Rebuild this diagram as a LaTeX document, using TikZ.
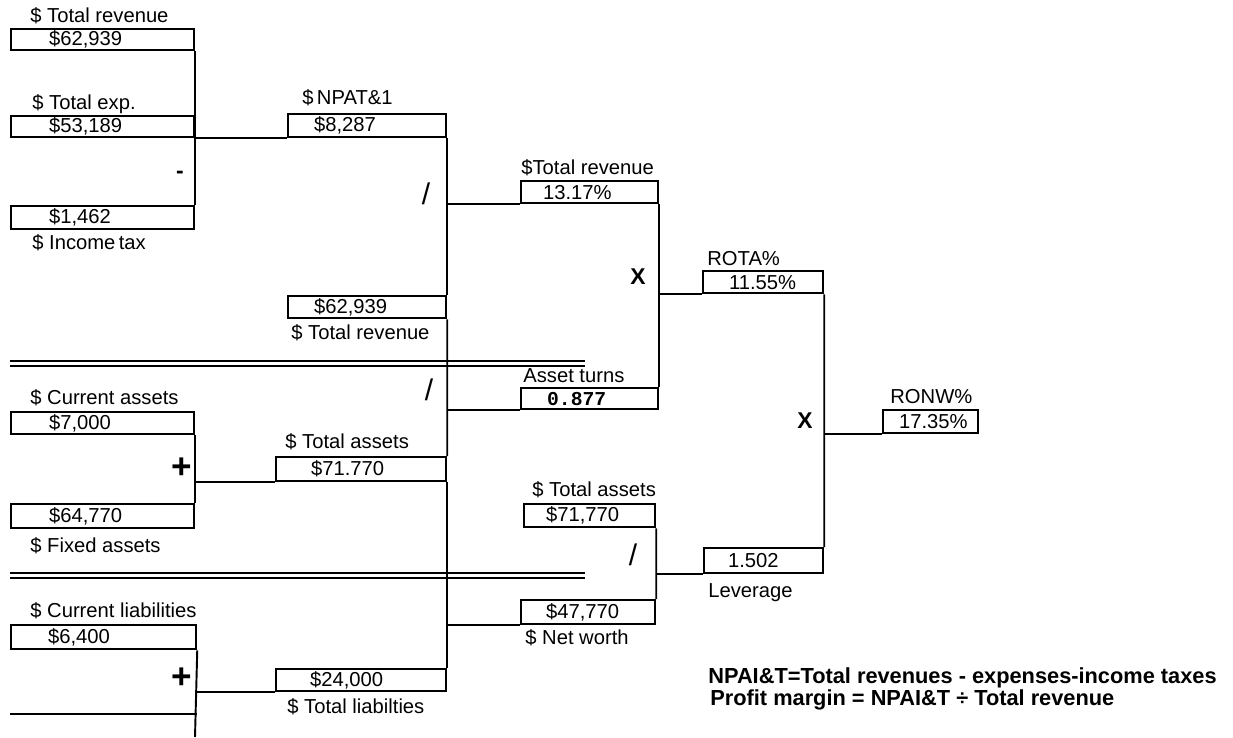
\documentclass[tikz,border=0pt]{standalone}
\usepackage{fontspec}
\setmainfont{Liberation Sans}
\newfontfamily\monof{Liberation Mono}
\newcommand\fsz{\fontsize{11.5}{13}\selectfont}
\begin{document}
\begin{tikzpicture}[x=0.02cm,y=-0.02cm,
  bx/.style={draw, line width=1.3pt, inner sep=0pt, anchor=north west, align=left, font=\fsz},
  lbl/.style={anchor=base west, inner sep=0pt, font=\fsz},
  note/.style={anchor=base west, inner sep=0pt, font=\fontsize{12.4}{14}\selectfont\bfseries},
  opr/.style={inner sep=0pt, font=\fontsize{17}{19}\selectfont},
  opb/.style={inner sep=0pt, font=\fontsize{20}{22}\selectfont\bfseries},
  opx/.style={inner sep=0pt, font=\fontsize{13}{15}\selectfont\bfseries},
  ln/.style={line width=1.1pt},
  dbl/.style={line width=0.9pt}]
\useasboundingbox (0,0) rectangle (1233,737);

% boxes
\node[bx, text width=3.66cm, minimum height=0.42cm] (tr1) at (10,28) {\hspace*{0.76cm}\$62,939};
\node[bx, text width=3.66cm, minimum height=0.42cm] (te) at (10,115) {\hspace*{0.76cm}\$53,189};
\node[bx, text width=3.66cm, minimum height=0.46cm] (it) at (10,205) {\hspace*{0.76cm}\$1,462};
\node[bx, text width=3.16cm, minimum height=0.46cm] (npat) at (287,113) {\hspace*{0.52cm}\$8,287};
\node[bx, text width=3.16cm, minimum height=0.44cm] (tr2) at (287,295) {\hspace*{0.52cm}\$62,939};
\node[bx, text width=2.74cm, minimum height=0.44cm] (pm) at (520,180) {\hspace*{0.44cm}13.17\%};
\node[bx, text width=2.40cm, minimum height=0.44cm] (rota) at (702,270) {\hspace*{0.52cm}11.55\%};
\node[bx, text width=2.74cm, minimum height=0.42cm] (at) at (520,387) {\hspace*{0.52cm}{\monof\bfseries\fontsize{11.2}{13}\selectfont 0.877}};
\node[bx, text width=1.90cm, minimum height=0.46cm] (ronw) at (882,409) {\hspace*{0.32cm}17.35\%};
\node[bx, text width=3.66cm, minimum height=0.44cm] (ca) at (10,411) {\hspace*{0.76cm}\$7,000};
\node[bx, text width=3.40cm, minimum height=0.48cm] (ta) at (275,456) {\hspace*{0.70cm}\$71.770};
\node[bx, text width=3.66cm, minimum height=0.48cm] (fa) at (10,503) {\hspace*{0.76cm}\$64,770};
\node[bx, text width=2.62cm, minimum height=0.46cm] (ta2) at (523,503) {\hspace*{0.44cm}\$71,770};
\node[bx, text width=2.38cm, minimum height=0.50cm] (lev) at (703,547) {\hspace*{0.48cm}1.502};
\node[bx, text width=2.68cm, minimum height=0.48cm] (nw) at (520,599) {\hspace*{0.50cm}\$47,770};
\node[bx, text width=3.70cm, minimum height=0.48cm] (cl) at (10,624) {\hspace*{0.74cm}\$6,400};
\node[bx, text width=3.40cm, minimum height=0.44cm] (tl) at (275,668) {\hspace*{0.68cm}\$24,000};

% labels
\node[lbl] (l1) at (30,22) {\$ Total revenue};
\node[lbl] (l2) at (32,109) {\$ Total exp.};
\node[lbl] (l3) at (32,249) {\$ Income\,tax};
\node[lbl] (l4) at (302,104) {\$\,NPAT\&1};
\node[lbl] (l5) at (521,174) {\$Total revenue};
\node[lbl] (l6) at (291,339) {\$ Total revenue};
\node[lbl] (l7) at (707,265) {ROTA\%};
\node[lbl] (l8) at (523,382) {Asset turns};
\node[lbl] (l9) at (890,403) {RONW\%};
\node[lbl] (l10) at (30,404) {\$ Current assets};
\node[lbl] (l11) at (285,448) {\$ Total assets};
\node[lbl] (l12) at (30,552) {\$ Fixed assets};
\node[lbl] (l13) at (532,496) {\$ Total assets};
\node[lbl] (l14) at (708,597) {Leverage};
\node[lbl] (l15) at (30,617) {\$ Current liabilities};
\node[lbl] (l16) at (525,644) {\$ Net worth};
\node[lbl] (l17) at (287,713) {\$ Total liabilties};

% operators
\node[opx] (o1) at (180,175) {-};
\node[opr] (o2) at (426,194) {/};
\node[opx] (o3) at (638,277) {X};
\node[opr] (o4) at (429,390) {/};
\node[opb] (o5) at (182,468) {+};
\node[opb] (o6) at (182,678) {+};
\node[opr] (o7) at (633,555) {/};
\node[opx] (o8) at (805,421) {X};

% notes
\node[note] (n1) at (708,683) {NPAI\&T=Total revenues - expenses-income taxes};
\node[note] (n2) at (710,705) {Profit margin = NPAI\&T ÷ Total revenue};

% connectors
\draw[ln] (tr1.south east) -- (it.north east);
\draw[ln] (te.south east) -- (npat.south west);
\draw[ln] (npat.south east) -- (tr2.north east);
\draw[ln] (tr2.south east) -- (ta.north east);
\draw[ln] (ta.south east) -- (tl.north east);
\draw[ln] (pm.south west) -- (pm.south west -| npat.east);
\draw[ln] (pm.south east) -- (at.north east);
\draw[ln] (at.south west) -- (at.south west -| tr2.east);
\draw[ln] (rota.south west) -- (rota.south west -| pm.east);
\draw[ln] (rota.south east) -- (lev.north east);
\draw[ln] (ronw.south west) -- (ronw.south west -| rota.east);
\draw[ln] (ta2.south east) -- (nw.north east);
\draw[ln] (lev.south west) -- (lev.south west -| ta2.east);
\draw[ln] (nw.south west) -- (nw.south west -| ta.east);
\draw[ln] (ca.south east) -- (fa.north east);
\draw[ln] (ta.south west) -- (ta.south west -| ca.east);
\draw[ln] (tl.south west) -- (tl.south west -| cl.east);
\coordinate (cut) at (195,737);
\coordinate (cutl) at (10,714);
\draw[ln] (cl.south east) -- (cut);
\draw[line width=1.3pt] (cutl) -- (cutl -| cl.east);

% double rules
\coordinate (d1a) at (10,361); \coordinate (d1b) at (585,361);
\coordinate (d2a) at (10,573); \coordinate (d2b) at (585,573);
\draw[dbl] (d1a) -- (d1b);
\draw[dbl] ([yshift=-0.1cm]d1a) -- ([yshift=-0.1cm]d1b);
\draw[dbl] (d2a) -- (d2b);
\draw[dbl] ([yshift=-0.1cm]d2a) -- ([yshift=-0.1cm]d2b);
\end{tikzpicture}
\end{document}
